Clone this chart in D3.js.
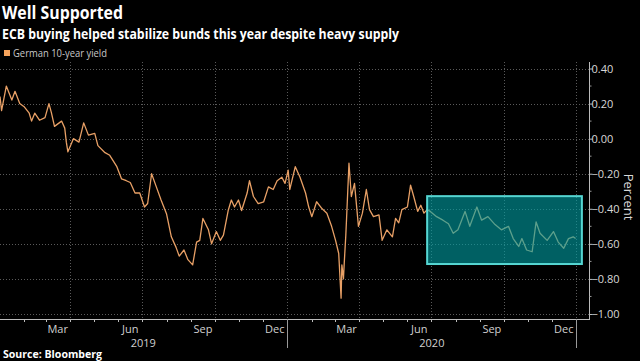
<!DOCTYPE html>
<html>
<head>
<meta charset="utf-8">
<script src="https://cdn.jsdelivr.net/npm/d3@7"></script>
<style>
  body { margin: 0; background: #000; }
  svg { display: block; font-family: "Open Sans", "DejaVu Sans", sans-serif; }
</style>
</head>
<body>
<svg class="chart" width="640" height="361"></svg>
<script>
// German 10-year yield
var dates = [
  '2019-01-02','2019-01-04','2019-01-10','2019-01-17','2019-01-21','2019-01-27','2019-02-02','2019-02-08','2019-02-11','2019-02-15',
  '2019-02-21','2019-02-28','2019-03-05','2019-03-08','2019-03-12','2019-03-21','2019-03-25','2019-03-27','2019-03-29','2019-04-05',
  '2019-04-12','2019-04-18','2019-04-24','2019-05-02','2019-05-06','2019-05-15','2019-05-21','2019-05-30','2019-06-05','2019-06-11',
  '2019-06-16','2019-06-19','2019-06-22','2019-06-28','2019-07-04','2019-07-08','2019-07-13','2019-07-19','2019-07-25','2019-08-01',
  '2019-08-07','2019-08-13','2019-08-17','2019-08-23','2019-08-28','2019-09-03','2019-09-08','2019-09-12','2019-09-16','2019-09-23',
  '2019-09-27','2019-10-03','2019-10-08','2019-10-12','2019-10-18','2019-10-22','2019-10-26','2019-10-31','2019-11-04','2019-11-11',
  '2019-11-14','2019-11-19','2019-11-25','2019-12-02','2019-12-08','2019-12-14','2019-12-19','2019-12-25','2019-12-29','2020-01-02',
  '2020-01-04','2020-01-11','2020-01-17','2020-01-24','2020-01-28','2020-02-01','2020-02-07','2020-02-14','2020-02-20','2020-02-26',
  '2020-03-02','2020-03-06','2020-03-09','2020-03-10','2020-03-12','2020-03-13','2020-03-15','2020-03-16','2020-03-19','2020-03-22',
  '2020-03-26','2020-03-31','2020-04-05','2020-04-10','2020-04-14','2020-04-19','2020-04-26','2020-04-30','2020-05-06','2020-05-13',
  '2020-05-17','2020-05-21','2020-05-25','2020-06-01','2020-06-05','2020-06-09','2020-06-14','2020-06-18','2020-06-22','2020-06-26',
  '2020-06-30','2020-07-08','2020-07-16','2020-07-23','2020-07-29','2020-08-04','2020-08-13','2020-08-19','2020-08-28','2020-09-03',
  '2020-09-11','2020-09-20','2020-09-28','2020-10-07','2020-10-13','2020-10-20','2020-10-24','2020-10-30','2020-11-06','2020-11-11',
  '2020-11-16','2020-11-25','2020-12-03','2020-12-09','2020-12-16','2020-12-22','2020-12-28','2020-12-31'
];
var yields = [
  0.24, 0.16, 0.30, 0.22, 0.27, 0.20, 0.18, 0.145, 0.10, 0.145,
  0.105, 0.12, 0.20, 0.15, 0.07, 0.10, 0.06, -0.02, -0.075, 0.00,
  -0.02, 0.09, 0.02, 0.03, -0.04, -0.08, -0.095, -0.16, -0.23, -0.24,
  -0.25, -0.28, -0.31, -0.31, -0.39, -0.37, -0.20, -0.275, -0.35, -0.43,
  -0.56, -0.62, -0.67, -0.635, -0.69, -0.72, -0.59, -0.58, -0.455, -0.52,
  -0.60, -0.53, -0.58, -0.55, -0.41, -0.35, -0.39, -0.35, -0.41, -0.31,
  -0.24, -0.33, -0.37, -0.36, -0.275, -0.29, -0.24, -0.22, -0.255, -0.18,
  -0.29, -0.16, -0.22, -0.31, -0.39, -0.445, -0.36, -0.40, -0.425, -0.50,
  -0.58, -0.655, -0.91, -0.72, -0.80, -0.71, -0.55, -0.45, -0.14, -0.33,
  -0.255, -0.50, -0.425, -0.29, -0.405, -0.445, -0.435, -0.58, -0.52, -0.56,
  -0.455, -0.48, -0.405, -0.39, -0.265, -0.33, -0.415, -0.38, -0.425, -0.405,
  -0.415, -0.445, -0.465, -0.485, -0.54, -0.52, -0.415, -0.50, -0.39, -0.465,
  -0.445, -0.49, -0.52, -0.50, -0.57, -0.615, -0.57, -0.635, -0.645, -0.475,
  -0.54, -0.58, -0.53, -0.59, -0.625, -0.57, -0.56, -0.57
];

var yTicks = [0.4, 0.2, 0, -0.2, -0.4, -0.6, -0.8, -1.0];
var monthLabels = ['2019-03','2019-06','2019-09','2019-12','2020-03','2020-06','2020-09','2020-12'];
var years = ['2019', '2020'];

// highlighted stretch (box corners: dates, yields)
var boxDates = ['2020-06-26', '2021-01-08'];
var boxYields = [-0.328, -0.715];

var parse = d3.utcParse('%Y-%m-%d');
var data = dates.map(function(d, i) { return { date: parse(d), value: yields[i] }; });

var svg = d3.select('.chart');
var w = 589, bottom = 319;

var x = d3.scaleUtc()
  .domain([parse('2019-01-02'), parse('2021-01-17')])
  .range([0, w]);
var y = d3.scaleLinear()
  .domain([-1, 0.4])
  .range([314, 68.5]);

// titles (narrow Bloomberg-ish face, squeezed to the reference width)
svg.append('text').attr('x', 2).attr('y', 19)
  .attr('fill', '#fff').attr('font-weight', 'bold').attr('font-size', 18)
  .attr('textLength', 121).attr('lengthAdjust', 'spacingAndGlyphs')
  .text('Well Supported');
svg.append('text').attr('x', 2).attr('y', 38.5)
  .attr('fill', '#fff').attr('font-weight', 'bold').attr('font-size', 13.5)
  .attr('textLength', 397).attr('lengthAdjust', 'spacingAndGlyphs')
  .text('ECB buying helped stabilize bunds this year despite heavy supply');

// legend
svg.append('rect').attr('x', 4).attr('y', 50).attr('width', 6).attr('height', 6).attr('fill', '#f5a35c');
svg.append('text').attr('x', 13).attr('y', 57)
  .attr('fill', '#c8c8c8').attr('font-size', 10)
  .attr('textLength', 94).attr('lengthAdjust', 'spacingAndGlyphs')
  .text('German 10-year yield');

// grid
var grid = svg.append('g').attr('stroke', '#5a5a5a').attr('stroke-dasharray', '1,2').attr('stroke-width', 1);
grid.selectAll('.hg').data(yTicks).enter().append('line')
  .attr('x1', 0).attr('x2', w)
  .attr('y1', function(d) { return Math.round(y(d)) + 0.5; })
  .attr('y2', function(d) { return Math.round(y(d)) + 0.5; });
var quarters = d3.utcMonth.every(3).range(parse('2019-04-01'), parse('2021-01-02'));
grid.selectAll('.vg').data(quarters).enter().append('line')
  .attr('x1', function(d) { return Math.round(x(d)) + 0.5; })
  .attr('x2', function(d) { return Math.round(x(d)) + 0.5; })
  .attr('y1', 62).attr('y2', bottom);

// line
var line = d3.line()
  .x(function(d) { return x(d.date); })
  .y(function(d) { return y(d.value); });
svg.append('path').datum(data)
  .attr('d', line)
  .attr('fill', 'none')
  .attr('stroke', '#e8a066')
  .attr('stroke-width', 1.3)
  .attr('stroke-linejoin', 'round');

// highlight box
var bx0 = x(parse(boxDates[0])), bx1 = x(parse(boxDates[1]));
var by0 = y(boxYields[0]), by1 = y(boxYields[1]);
svg.append('rect')
  .attr('x', bx0).attr('y', by0)
  .attr('width', bx1 - bx0).attr('height', by1 - by0)
  .attr('fill', 'rgb(0,160,165)').attr('fill-opacity', 0.6)
  .attr('stroke', '#55d6d2').attr('stroke-width', 2);

// x axis
var xa = svg.append('g');
xa.append('line').attr('x1', 0).attr('x2', w).attr('y1', bottom + 0.5).attr('y2', bottom + 0.5)
  .attr('stroke', '#bbb');
var months = d3.utcMonth.range(parse('2019-02-01'), parse('2021-01-02'));
xa.selectAll('.mt').data(months).enter().append('line')
  .attr('x1', function(d) { return Math.round(x(d)) + 0.5; })
  .attr('x2', function(d) { return Math.round(x(d)) + 0.5; })
  .attr('y1', bottom).attr('y2', bottom + 3)
  .attr('stroke', '#bbb');
xa.selectAll('.ml').data(monthLabels).enter().append('text')
  .attr('x', function(d) {
    var m = d3.utcParse('%Y-%m')(d);
    return x(new Date(m.getTime() + 15 * 864e5));
  })
  .attr('y', 333)
  .attr('text-anchor', 'middle')
  .attr('fill', '#d0d0d0').attr('font-size', 11)
  .text(function(d) { return d3.utcFormat('%b')(d3.utcParse('%Y-%m')(d)); });
xa.selectAll('.yl').data(years).enter().append('text')
  .attr('x', function(d) { return (x(parse(d + '-01-01')) + x(parse((+d + 1) + '-01-01'))) / 2; })
  .attr('y', 347)
  .attr('text-anchor', 'middle')
  .attr('fill', '#d0d0d0').attr('font-size', 11)
  .text(function(d) { return d; });
xa.selectAll('.ys').data(['2020-01-01', '2021-01-01']).enter().append('line')
  .attr('x1', function(d) { return Math.round(x(parse(d))) + 0.5; })
  .attr('x2', function(d) { return Math.round(x(parse(d))) + 0.5; })
  .attr('y1', bottom).attr('y2', 348)
  .attr('stroke', '#999');

// y axis on right
var yAxis = d3.axisRight(y)
  .tickValues(yTicks)
  .tickSize(3)
  .tickFormat(d3.format('.2f'));
var ya = svg.append('g')
  .attr('transform', 'translate(' + (w + 0.5) + ',0)')
  .call(yAxis);
ya.select('.domain').remove();
ya.append('line').attr('y1', 62).attr('y2', bottom + 1).attr('stroke', '#bbb');
ya.selectAll('.minor').data(d3.range(-9, 4, 2).map(function(d) { return d / 10; })).enter().append('line')
  .attr('x1', 0).attr('x2', 2)
  .attr('y1', function(d) { return y(d); }).attr('y2', function(d) { return y(d); })
  .attr('stroke', '#999');
ya.selectAll('.tick line').attr('stroke', '#bbb');
ya.selectAll('.tick text')
  .attr('fill', '#d8d8d8').attr('font-size', 11).attr('x', 2)
  .attr('font-family', '"Open Sans", "DejaVu Sans", sans-serif');

svg.append('text')
  .attr('transform', 'translate(624,197) rotate(90)')
  .attr('text-anchor', 'middle')
  .attr('fill', '#d8d8d8').attr('font-size', 13)
  .text('Percent');

// source
svg.append('text').attr('x', 3).attr('y', 358)
  .attr('fill', '#fff').attr('font-weight', 'bold').attr('font-size', 10)
  .attr('textLength', 99).attr('lengthAdjust', 'spacingAndGlyphs')
  .text('Source: Bloomberg');
</script>
</body>
</html>
